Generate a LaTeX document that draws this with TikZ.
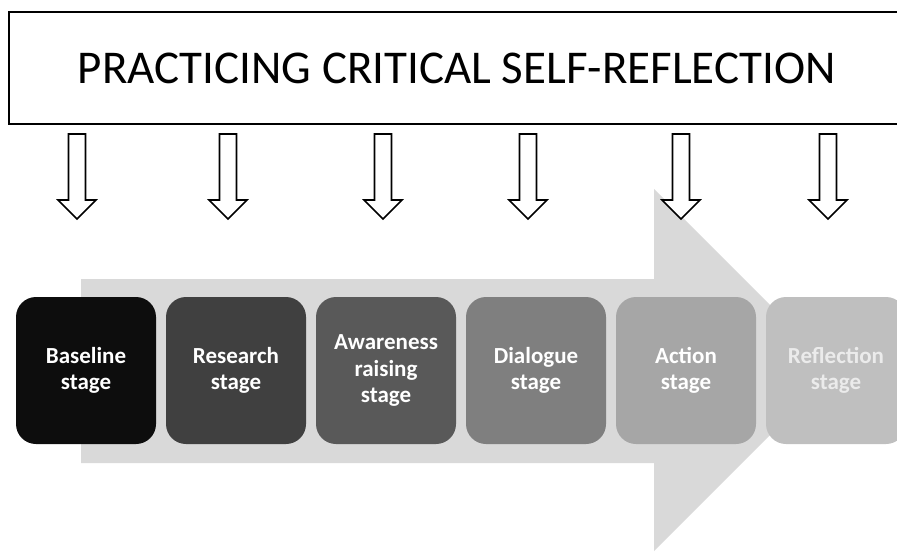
\documentclass[tikz,border=0pt]{standalone}
\usepackage{fontspec}
\setmainfont{Carlito}
\usepackage{tikz}
\usetikzlibrary{positioning}
\definecolor{arrowgray}{HTML}{D9D9D9}
\definecolor{stageA}{HTML}{0D0D0D}
\definecolor{stageB}{HTML}{404040}
\definecolor{stageC}{HTML}{595959}
\definecolor{stageD}{HTML}{7F7F7F}
\definecolor{stageE}{HTML}{A6A6A6}
\definecolor{stageF}{HTML}{BFBFBF}

\begin{document}
\begin{tikzpicture}[x=1pt,y=-1pt,
	stagebox/.style={rounded corners=20pt,minimum width=140pt,minimum height=147pt,inner sep=0pt,
		text=white,align=center,font=\fontsize{23}{26.5}\selectfont\bfseries},
	titlebox/.style={draw,line width=2pt,minimum width=896pt,minimum height=112pt,
		font=\fontsize{47}{52}\selectfont},
	hollow/.style={draw,line width=1.6pt,fill=white,line join=miter}]
	\useasboundingbox (0,0) rectangle (897,552);
	\clip (0,0) rectangle (897,552);
	\node[titlebox] (title) at (457,68) {PRACTICING CRITICAL SELF-REFLECTION};
	% big grey arrow behind the stages
	\fill[arrowgray] (81,279) -- (654,279) -- (654,189) -- (835,370) -- (654,551) -- (654,463) -- (81,463) -- cycle;
	% hollow arrows under the title
	\foreach \x in {77,228,383,528,681,828}
		\draw[hollow] (\x-8.5,134) -- (\x-8.5,200) -- (\x-19,200) -- (\x,219) -- (\x+19,200) -- (\x+8.5,200) -- (\x+8.5,134) -- cycle;
	% stages
	\node[stagebox,fill=stageA] (baseline) at (86,370.5) {Baseline\\stage};
	\node[stagebox,fill=stageB,right=9.6pt of baseline] (research) {Research\\stage};
	\node[stagebox,fill=stageC,right=9.6pt of research] (awareness) {Awareness\\raising\\stage};
	\node[stagebox,fill=stageD,right=9.6pt of awareness] (dialogue) {Dialogue\\stage};
	\node[stagebox,fill=stageE,right=9.6pt of dialogue] (action) {Action\\stage};
	\node[stagebox,fill=stageF,text=white!92!black,right=9.6pt of action] (reflection) {Reflection\\stage};
\end{tikzpicture}
\end{document}
